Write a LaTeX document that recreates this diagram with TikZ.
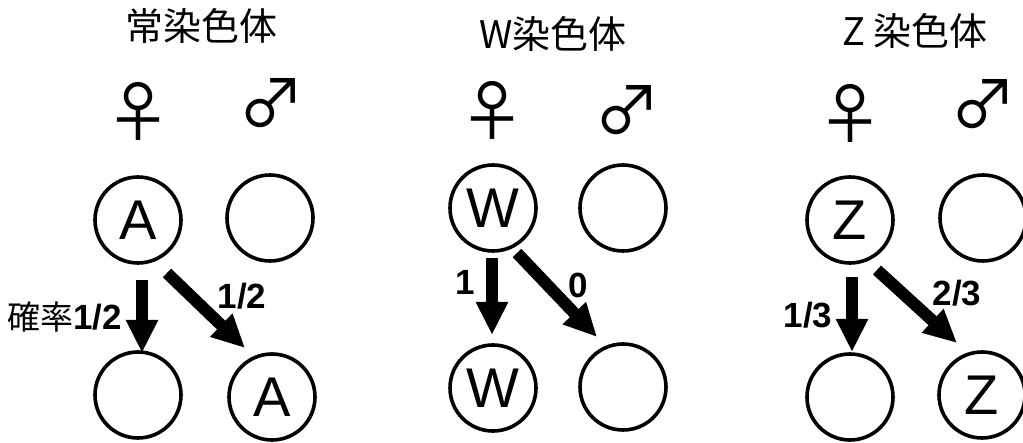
\documentclass[tikz,border=0pt]{standalone}
\usepackage{fontspec}
\setmainfont{Liberation Sans}
\newfontfamily\cjk{Noto Sans CJK JP}
\usetikzlibrary{arrows.meta}
\tikzset{
  gene/.style={circle, draw, line width=3.6pt, minimum size=86pt, inner sep=0pt,
    font=\fontsize{56}{56}\selectfont},
  title/.style={font=\cjk\fontsize{38}{42}\selectfont, inner sep=0pt},
  sex/.style={font=\cjk\fontsize{66}{68}\selectfont, inner sep=0pt},
  prob/.style={font=\bfseries\fontsize{35}{37}\selectfont, inner sep=0pt},
  bigarrow/.style={line width=12pt, -{Triangle[width=30pt,length=33pt]}},
}
\begin{document}
\begin{tikzpicture}[x=1pt, y=-1pt]
\useasboundingbox (0,0) rectangle (1023,443);

% ---- autosomes ----
\node[title] (t1) at (201,26) {常染色体};
\node[sex] (f1) at (138,111) {♀};
\node[sex] (m1) at (271,103) {♂};
\node[gene] (a1) at (138,220) {A};
\node[gene] (b1) at (270,218) {};
\node[gene] (c1) at (138,395) {};
\node[gene] (d1) at (272,397) {A};
\draw[bigarrow] ([shift={(4,60)}]a1.center) -- ([shift={(4,-42)}]c1.center);
\draw[bigarrow] ([shift={(29,53)}]a1.center) -- ([shift={(-27,-49)}]d1.center);
\node[anchor=east, inner sep=0pt] (p1) at (122,317)
  {{\cjk\fontsize{33}{35}\selectfont 確率}{\bfseries\fontsize{35}{37}\selectfont 1/2}};
\node[prob] (q1) at (242,296) {1/2};

% ---- W chromosome ----
\node[title] (t2) at (553,34) {W染色体};
\node[sex] (f2) at (492,110) {♀};
\node[sex] (m2) at (627,110) {♂};
\node[gene] (a2) at (493,208) {W};
\node[gene] (b2) at (623,208) {};
\node[gene] (c2) at (493,388) {W};
\node[gene] (d2) at (623,387) {};
\draw[bigarrow] ([shift={(-1,50)}]a2.center) -- ([shift={(-1,-53)}]c2.center);
\draw[bigarrow] ([shift={(24,45)}]a2.center) -- ([shift={(-26,-50)}]d2.center);
\node[prob] (p2) at (465,282) {1};
\node[prob] (q2) at (578,285) {0};

% ---- Z chromosome ----
\node[title] (t3) at (915,31) {Z 染色体};
\node[sex] (f3) at (850,113) {♀};
\node[sex] (m3) at (983,104) {♂};
\node[gene] (a3) at (850,220) {Z};
\node[gene] (b3) at (983,218) {};
\node[gene] (c3) at (850,397) {};
\node[gene] (d3) at (982,395) {Z};
\draw[bigarrow] ([shift={(2,57)}]a3.center) -- ([shift={(2,-45)}]c3.center);
\draw[bigarrow] ([shift={(27,50)}]a3.center) -- ([shift={(-25,-52)}]d3.center);
\node[prob] (p3) at (808,315) {1/3};
\node[prob] (q3) at (957,293) {2/3};
\end{tikzpicture}
\end{document}
